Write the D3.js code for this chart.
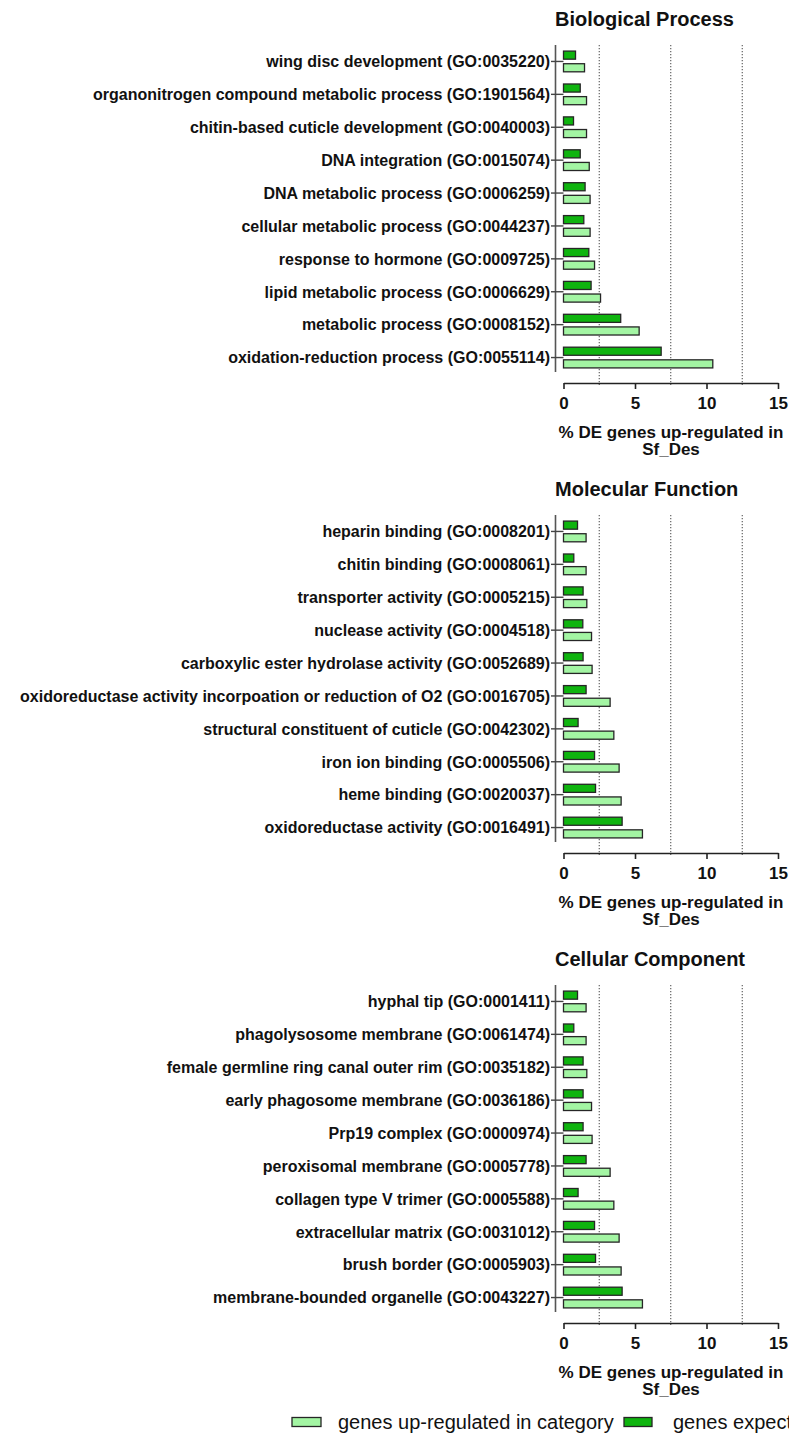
<!DOCTYPE html>
<html>
<head>
<meta charset="utf-8">
<script src="https://cdn.jsdelivr.net/npm/d3@7"></script>
<style>
  html, body { margin: 0; padding: 0; background: #fff; }
  svg { display: block; }
  text { font-family: "Liberation Sans", Arial, sans-serif; }
</style>
</head>
<body>
<svg id="chart" width="789" height="1439"></svg>
<script>
// ---------- data ----------
const panelTitles = ["Biological Process", "Molecular Function", "Cellular Component"];

const bpCategories = [
  "wing disc development (GO:0035220)",
  "organonitrogen compound metabolic process (GO:1901564)",
  "chitin-based cuticle development (GO:0040003)",
  "DNA integration (GO:0015074)",
  "DNA metabolic process (GO:0006259)",
  "cellular metabolic process (GO:0044237)",
  "response to hormone (GO:0009725)",
  "lipid metabolic process (GO:0006629)",
  "metabolic process (GO:0008152)",
  "oxidation-reduction process (GO:0055114)"
];
const bpExpected    = [0.84, 1.17, 0.70, 1.17, 1.51, 1.42, 1.77, 1.93, 4.00, 6.83];
const bpUpregulated = [1.47, 1.61, 1.61, 1.80, 1.86, 1.86, 2.17, 2.59, 5.29, 10.44];

const mfCategories = [
  "heparin binding (GO:0008201)",
  "chitin binding (GO:0008061)",
  "transporter activity (GO:0005215)",
  "nuclease activity (GO:0004518)",
  "carboxylic ester hydrolase activity (GO:0052689)",
  "oxidoreductase activity incorpoation or reduction of O2 (GO:0016705)",
  "structural constituent of cuticle (GO:0042302)",
  "iron ion binding (GO:0005506)",
  "heme binding (GO:0020037)",
  "oxidoreductase activity (GO:0016491)"
];
const mfExpected    = [0.98, 0.72, 1.37, 1.35, 1.37, 1.58, 1.02, 2.17, 2.24, 4.10];
const mfUpregulated = [1.58, 1.58, 1.63, 1.96, 2.00, 3.26, 3.52, 3.89, 4.03, 5.52];

const ccCategories = [
  "hyphal tip (GO:0001411)",
  "phagolysosome membrane (GO:0061474)",
  "female germline ring canal outer rim (GO:0035182)",
  "early phagosome membrane (GO:0036186)",
  "Prp19 complex (GO:0000974)",
  "peroxisomal membrane (GO:0005778)",
  "collagen type V trimer (GO:0005588)",
  "extracellular matrix (GO:0031012)",
  "brush border (GO:0005903)",
  "membrane-bounded organelle (GO:0043227)"
];
const ccExpected    = [0.98, 0.72, 1.37, 1.37, 1.37, 1.58, 1.02, 2.17, 2.24, 4.10];
const ccUpregulated = [1.58, 1.58, 1.63, 1.96, 2.00, 3.26, 3.52, 3.89, 4.03, 5.52];

const seriesNames = ["genes expected in category", "genes up-regulated in category"];
const xTicks = [0, 5, 10, 15];
const gridValues = [2.5, 7.5, 12.5];
const xAxisTitle = ["% DE genes up-regulated in", "Sf_Des"];

// ---------- styles ----------
const COLOR_EXPECTED = "#0fb40f";
const COLOR_UP = "#a3f5a3";
const STROKE = "#262626";

const panels = [
  { title: panelTitles[0], cats: bpCategories, exp: bpExpected, up: bpUpregulated },
  { title: panelTitles[1], cats: mfCategories, exp: mfExpected, up: mfUpregulated },
  { title: panelTitles[2], cats: ccCategories, exp: ccExpected, up: ccUpregulated }
];

const svg = d3.select("#chart");
const x = d3.scaleLinear().domain([0, 15]).range([563.5, 778]);
const panelStep = 470;

panels.forEach((p, pi) => {
  const g = svg.append("g").attr("transform", `translate(0,${pi * panelStep})`);
  const yTop = 45, yBottom = 374, axisY = 383, yAxisX = 555.5;

  const y = d3.scaleBand().domain(p.cats).range([yTop, yBottom])
    .paddingInner(0.37).paddingOuter(0.185);
  const inner = d3.scaleBand().domain(["exp", "up"]).range([0, y.bandwidth()])
    .paddingInner(0.36);

  // title
  g.append("text").attr("x", 555).attr("y", 26)
    .attr("font-size", 20).attr("font-weight", "bold").attr("fill", "#111")
    .text(p.title);

  // dotted grid lines
  g.selectAll(".grid").data(gridValues).enter().append("line")
    .attr("x1", d => x(d)).attr("x2", d => x(d))
    .attr("y1", yTop).attr("y2", axisY + 2)
    .attr("stroke", "#555").attr("stroke-width", 1.1)
    .attr("stroke-dasharray", "1.2,1.8");

  // y axis line
  g.append("line").attr("x1", yAxisX).attr("x2", yAxisX)
    .attr("y1", yTop).attr("y2", yBottom - 2)
    .attr("stroke", "#555").attr("stroke-width", 1.6);

  // category ticks and labels
  p.cats.forEach(c => {
    const cy = y(c) + y.bandwidth() / 2;
    g.append("line").attr("x1", 551).attr("x2", 563.5).attr("y1", cy).attr("y2", cy)
      .attr("stroke", "#444").attr("stroke-width", 1.4);
    g.append("text").attr("x", 550).attr("y", cy).attr("dy", "0.36em")
      .attr("text-anchor", "end").attr("font-size", 16).attr("font-weight", "bold")
      .attr("fill", "#111").text(c);
  });

  // bars
  const rows = p.cats.map((c, i) => ({ c, exp: p.exp[i], up: p.up[i] }));
  rows.forEach(r => {
    g.append("rect").attr("x", x(0)).attr("y", y(r.c) + inner("exp"))
      .attr("width", x(r.exp) - x(0)).attr("height", inner.bandwidth())
      .attr("fill", COLOR_EXPECTED).attr("stroke", STROKE).attr("stroke-width", 1.3);
    g.append("rect").attr("x", x(0)).attr("y", y(r.c) + inner("up"))
      .attr("width", x(r.up) - x(0)).attr("height", inner.bandwidth())
      .attr("fill", COLOR_UP).attr("stroke", STROKE).attr("stroke-width", 1.3);
  });

  // x axis
  const axis = d3.axisBottom(x).tickValues(xTicks).tickSize(6).tickSizeOuter(0)
    .tickFormat(d3.format("d"));
  const ax = g.append("g").attr("transform", `translate(0,${axisY})`).call(axis);
  ax.select(".domain").attr("stroke", "#222").attr("stroke-width", 1.6);
  ax.selectAll(".tick line").attr("stroke", "#222").attr("stroke-width", 1.6);
  ax.selectAll(".tick text").attr("font-size", 17).attr("font-weight", "bold")
    .attr("fill", "#111").attr("y", 0).attr("dy", "1.55em")
    .style("font-family", "'Liberation Sans', Arial, sans-serif");

  // axis title
  g.append("text").attr("x", 671).attr("y", 438).attr("text-anchor", "middle")
    .attr("font-size", 17).attr("font-weight", "bold").attr("fill", "#111")
    .text(xAxisTitle[0]);
  g.append("text").attr("x", 671).attr("y", 455).attr("text-anchor", "middle")
    .attr("font-size", 17).attr("font-weight", "bold").attr("fill", "#111")
    .text(xAxisTitle[1]);
});

// legend
const legendY = 1422;
const legend = svg.append("g");
legend.append("rect").attr("x", 292).attr("y", legendY - 4.5).attr("width", 29).attr("height", 9)
  .attr("fill", COLOR_UP).attr("stroke", STROKE).attr("stroke-width", 1.3);
legend.append("text").attr("x", 338).attr("y", legendY).attr("dy", "0.35em")
  .attr("font-size", 20).attr("fill", "#111").text(seriesNames[1]);
legend.append("rect").attr("x", 624).attr("y", legendY - 4.5).attr("width", 28).attr("height", 9)
  .attr("fill", COLOR_EXPECTED).attr("stroke", STROKE).attr("stroke-width", 1.3);
legend.append("text").attr("x", 673).attr("y", legendY).attr("dy", "0.35em")
  .attr("font-size", 20).attr("fill", "#111").text(seriesNames[0]);
</script>
</body>
</html>
